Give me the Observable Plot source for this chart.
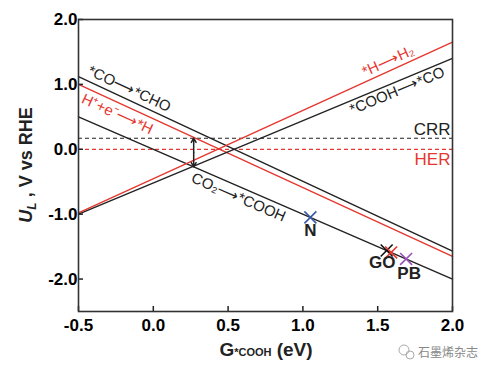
<!DOCTYPE html>
<html>
<head>
<meta charset="utf-8">
<script src="https://cdn.jsdelivr.net/npm/d3@7"></script>
<script src="https://cdn.jsdelivr.net/npm/@observablehq/plot@0.6"></script>
<style>
  html, body { margin: 0; padding: 0; background: #fff; }
  #chart { width: 493px; height: 376px; }
  svg { font-family: "Liberation Sans", Arial, sans-serif; }
</style>
</head>
<body>
<div id="chart"></div>
<script>
// ---------- data ----------
const gEnds = [-0.5, 2.0];                 // G*COOH (eV) at the two ends of each line
const coChoU   = [1.12, -1.57];            // *CO -> *CHO
const hPlusU   = [1.00, -1.65];            // H+ + e- -> *H
const co2CoohU = [0.50, -2.00];            // CO2 -> *COOH
const coohCoU  = [-1.00, 1.40];            // *COOH -> *CO
const hH2U     = [-0.98, 1.65];            // *H -> H2
const crrU = 0.17;                          // CRR level
const herU = 0.0;                           // HER level
const gapG = 0.27;                          // position of the double arrow

const catalystNames = ["N", "G", "O", "PB"];
const catalystG = [1.05, 1.56, 1.59, 1.69];
const catalystU = [-1.05, -1.56, -1.59, -1.69];

const catalystLabels = ["N", "GO", "PB"];
const catalystLabelG = [1.05, 1.53, 1.71];
const catalystLabelU = [-1.25, -1.74, -1.92];

const lineLabelText = ["*CO\u27F6*CHO", "H\u207A+e\u207B\u27F6*H", "CO\u2082\u27F6*COOH", "*COOH\u27F6*CO", "*H\u27F6H\u2082"];
const lineLabelG = [-0.16, -0.24, 0.57, 1.63, 1.57];
const lineLabelU = [0.93, 0.54, -0.74, 0.90, 1.36];

const xTicks = [-0.5, 0.0, 0.5, 1.0, 1.5, 2.0];
const yTicks = [-2.0, -1.0, 0.0, 1.0, 2.0];

// ---------- styles ----------
const BLACK = "#222";
const RED = "#e5372f";
const catalystColor = {N: "#3a58a8", G: "#111", O: "#e5372f", PB: "#9a4fb8"};

const W = 493, H = 376, ML = 78, MR = 41, MT = 19, MB = 65;
const xDomain = [-0.5, 2.0], yDomain = [-2.5, 2.0];
const kx = (W - ML - MR) / (xDomain[1] - xDomain[0]);
const ky = (H - MT - MB) / (yDomain[1] - yDomain[0]);

const series = [
  {name: "coCho", color: BLACK, u: coChoU},
  {name: "hPlus", color: RED, u: hPlusU},
  {name: "co2Cooh", color: BLACK, u: co2CoohU},
  {name: "coohCo", color: BLACK, u: coohCoU},
  {name: "hH2", color: RED, u: hH2U}
];
const lineRows = series.flatMap(s => gEnds.map((g, i) => ({name: s.name, color: s.color, g, u: s.u[i]})));

const labelRows = lineLabelText.map((t, i) => {
  const s = series[i];
  const slope = (s.u[1] - s.u[0]) / (gEnds[1] - gEnds[0]);
  return {
    text: t, g: lineLabelG[i], u: lineLabelU[i],
    color: s.color,
    angle: -Math.atan(slope * ky / kx) * 180 / Math.PI
  };
});

const catalystRows = catalystNames.map((n, i) => ({name: n, g: catalystG[i], u: catalystU[i]}));
const catLabelRows = catalystLabels.map((n, i) => ({name: n, g: catalystLabelG[i], u: catalystLabelU[i]}));

const fmt = d => d.toFixed(1);
const lineAt = (u, g) => u[0] + (g - gEnds[0]) * (u[1] - u[0]) / (gEnds[1] - gEnds[0]);
const arrowBottom = lineAt(co2CoohU, gapG);
const arrowMid = (crrU + arrowBottom) / 2;

const plot = Plot.plot({
  width: W, height: H,
  marginLeft: ML, marginRight: MR, marginTop: MT, marginBottom: MB,
  x: {domain: xDomain},
  y: {domain: yDomain},
  style: {fontFamily: "Liberation Sans, Arial, sans-serif", background: "white"},
  marks: [
    Plot.ruleY([crrU], {stroke: BLACK, strokeWidth: 1.2, strokeDasharray: "4,3"}),
    Plot.ruleY([herU], {stroke: RED, strokeWidth: 1.2, strokeDasharray: "4,3"}),
    Plot.line(lineRows, {x: "g", y: "u", z: "name", stroke: "color", strokeWidth: 1.4}),
    Plot.arrow([{y1: arrowMid, y2: crrU}, {y1: arrowMid, y2: arrowBottom}], {
      x1: () => gapG, x2: () => gapG, y1: "y1", y2: "y2",
      stroke: BLACK, strokeWidth: 1.5, headLength: 8, insetEnd: 0
    }),
    Plot.dot(catalystRows, {x: "g", y: "u", symbol: "times", r: 5.5, strokeWidth: 1.6,
      stroke: d => catalystColor[d.name]}),
    Plot.text(catLabelRows, {x: "g", y: "u", text: "name", fontSize: 17, fontWeight: "bold", fill: BLACK}),
    Plot.text(labelRows, {x: "g", y: "u", text: "text", rotate: "angle", fill: "color", fontSize: 15}),
    Plot.text(["CRR"], {x: () => xDomain[1], y: () => 0.31, text: d => d, textAnchor: "end", dx: -2, fontSize: 17, fill: BLACK}),
    Plot.text(["HER"], {x: () => xDomain[1], y: () => -0.16, text: d => d, textAnchor: "end", dx: -2, fontSize: 17, fill: RED}),
    Plot.axisX({ticks: xTicks, tickFormat: fmt, tickSize: -5, tickPadding: 12, fontSize: 17, fontWeight: "bold", label: null, stroke: BLACK, strokeWidth: 1.5}),
    Plot.axisY({ticks: yTicks, tickFormat: fmt, tickSize: -5, tickPadding: 6, fontSize: 17, fontWeight: "bold", label: null, stroke: BLACK, strokeWidth: 1.5}),
    Plot.frame({stroke: "#333", strokeWidth: 1.6})
  ]
});

document.getElementById("chart").appendChild(plot);

// ---------- axis titles with rich text ----------
const svg = d3.select(plot);
const xt = svg.append("text")
  .attr("x", 266).attr("y", 356)
  .attr("text-anchor", "middle")
  .attr("font-weight", "bold").attr("font-size", 19).attr("fill", BLACK);
xt.append("tspan").text("G");
xt.append("tspan").attr("font-size", 11).text("*COOH");
xt.append("tspan").text(" (eV)");

const yt = svg.append("text")
  .attr("transform", `translate(32, ${MT + (H - MT - MB) / 2}) rotate(-90)`)
  .attr("text-anchor", "middle")
  .attr("font-weight", "bold").attr("font-size", 18).attr("fill", BLACK);
yt.append("tspan").attr("font-style", "italic").text("U");
yt.append("tspan").attr("font-style", "italic").attr("font-size", 12).attr("dy", 4).text("L");
yt.append("tspan").attr("dy", -4).text(" , V vs RHE");

// watermark
const wm = svg.append("g").attr("fill", "none").attr("stroke", "#aaa").attr("stroke-width", 1);
wm.append("circle").attr("cx", 404).attr("cy", 350).attr("r", 5);
wm.append("circle").attr("cx", 410).attr("cy", 355).attr("r", 4);
svg.append("text").attr("x", 418).attr("y", 357).attr("font-size", 12).attr("text-anchor", "start")
  .attr("font-family", "Noto Sans CJK SC").attr("fill", "#888").text("石墨烯杂志");
</script>
</body>
</html>
